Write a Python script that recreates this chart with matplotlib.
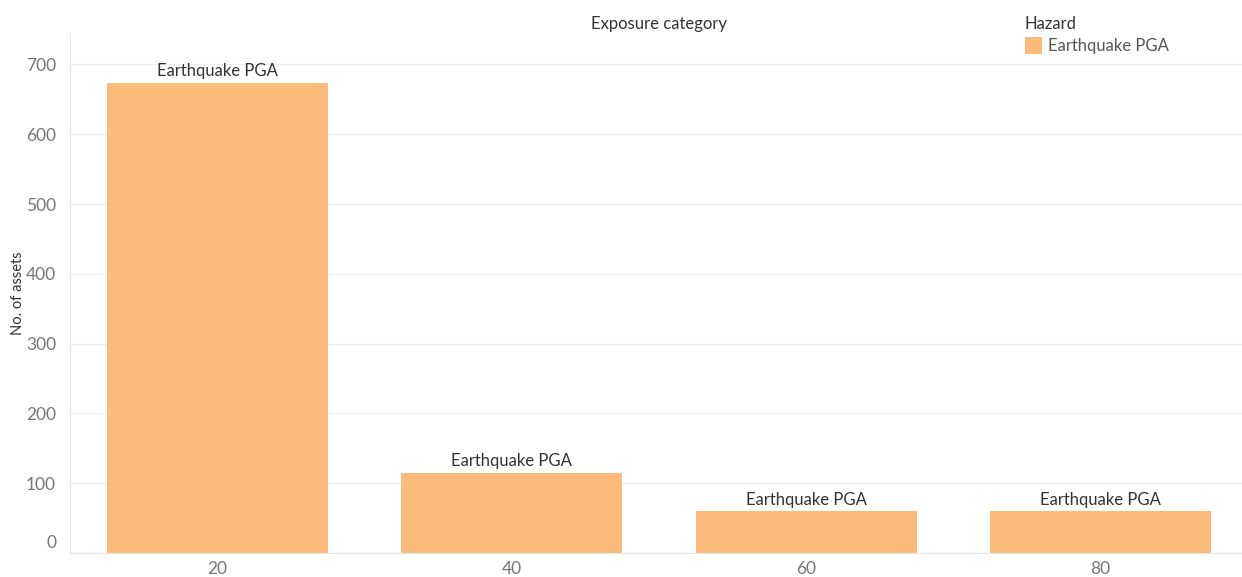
import matplotlib.pyplot as plt
import matplotlib.transforms as mtransforms
from matplotlib.patches import Patch

# data
categories = ["20", "40", "60", "80"]
asset_counts = [674, 115, 60, 60]
hazard = "Earthquake PGA"
y_ticks = [0, 100, 200, 300, 400, 500, 600, 700]

plt.rcParams['font.family'] = ['Lato', 'DejaVu Sans']

fig = plt.figure(figsize=(12.42, 5.77), dpi=100)
ax = fig.add_axes([70 / 1242, 24 / 577, 1 - 70 / 1242, (553 - 33) / 577])

bar_color = '#fdbb7b'
x = list(range(len(categories)))
bars = ax.bar(x, asset_counts, width=0.75, color=bar_color, zorder=2)

for b in bars:
    ax.text(b.get_x() + b.get_width() / 2, b.get_height() + 5, hazard,
            ha='center', va='bottom', fontsize=12, color='#333333', zorder=3)

ax.set_xlim(-0.5, 3.48)
ax.set_ylim(0, 745)
ax.set_xticks(x)
ax.set_xticklabels(categories)
ax.set_yticks(y_ticks)

ax.tick_params(axis='both', length=0, labelsize=12.5, colors='#777777')
ax.tick_params(axis='x', pad=6)
ax.tick_params(axis='y', pad=10)

# the zero label sits a bit above the baseline, like in the original
fig.canvas.draw()
zero_label = ax.get_yticklabels()[0]
zero_label.set_transform(zero_label.get_transform() +
                         mtransforms.ScaledTranslation(0, 11 / 100, fig.dpi_scale_trans))

ax.grid(axis='y', color='#efefef', linewidth=0.9, zorder=0)
for side in ['top', 'right']:
    ax.spines[side].set_visible(False)
ax.spines['left'].set_color('#e6e6e6')
ax.spines['bottom'].set_color('#e6e6e6')

ax.set_ylabel("No. of assets", fontsize=10.5, color='#333333', labelpad=1)

fig.text(659 / 1242, 1 - 24 / 577, "Exposure category", ha='center', va='center',
         fontsize=12, color='#333333')

leg = fig.legend(handles=[Patch(facecolor=bar_color, label=hazard)],
                 title="Hazard", loc='upper left',
                 bbox_to_anchor=(1010 / 1242, 1 - 1 / 577),
                 frameon=False, fontsize=12, title_fontsize=12,
                 handlelength=1.0, handleheight=1.2, handletextpad=0.4,
                 labelspacing=0.3)
leg._legend_box.align = 'left'
for t in leg.get_texts():
    t.set_color('#555555')
leg.get_title().set_color('#333333')

fig.savefig('out.png', dpi=100)
